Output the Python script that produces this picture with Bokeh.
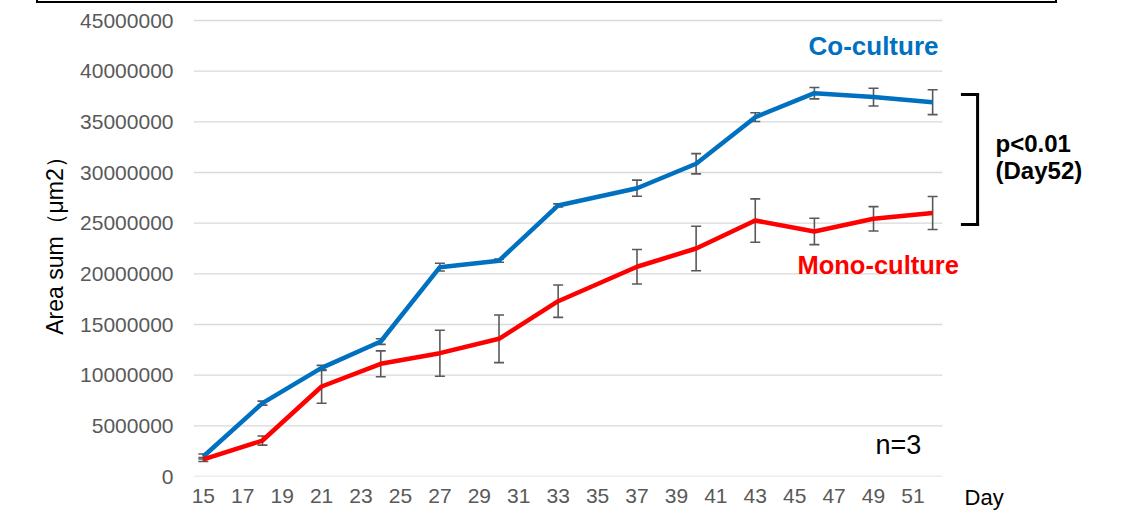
from bokeh.plotting import figure
from bokeh.layouts import column
from bokeh.models import (ColumnDataSource, Whisker, TeeHead, FixedTicker,
                          BasicTickFormatter, Label, Arrow, Range1d, Div)
from bokeh.embed import file_html
from bokeh.resources import INLINE

# Culture day of each measurement
days = [15, 18, 21, 24, 27, 30, 33, 37, 40, 43, 46, 49, 52]

# Total area (um2), mean and error for each condition
co_mean = [1970000, 7240000, 10720000, 13320000, 20660000, 21300000, 26750000,
           28450000, 30860000, 35460000, 37830000, 37440000, 36940000]
co_err = [250000, 200000, 250000, 280000, 380000, 150000, 150000,
          800000, 1000000, 430000, 560000, 870000, 1230000]
mono_mean = [1680000, 3550000, 8880000, 11120000, 12170000, 13590000, 17300000,
             20700000, 22500000, 25260000, 24180000, 25430000, 26000000]
mono_err = [200000, 450000, 1650000, 1280000, 2270000, 2350000, 1600000,
            1700000, 2200000, 2140000, 1300000, 1200000, 1630000]

# Axis ticks
x_ticks = list(range(15, 52, 2))
y_ticks = list(range(0, 45000001, 5000000))

# Day span covered by the plotted data area
x_start, x_stop = 14.5, 52.5

BLUE = "#0070C0"
RED = "#FF0000"
GRAY = "#595959"
FONT = "Liberation Sans"

# Plot area: the data span on the left, the strip to the right holds notes
p = figure(frame_width=928, frame_height=473, output_backend="svg",
           toolbar_location=None,
           x_range=Range1d(x_start, 61.581), y_range=Range1d(0, 46678000),
           min_border_left=193, min_border_right=0,
           min_border_top=0, min_border_bottom=40)
p.outline_line_color = None
p.background_fill_color = "white"
p.border_fill_color = "white"

# Axes
p.xaxis.ticker = FixedTicker(ticks=x_ticks)
p.yaxis.ticker = FixedTicker(ticks=y_ticks)
p.yaxis.formatter = BasicTickFormatter(use_scientific=False)
for ax in (p.xaxis[0], p.yaxis[0]):
    ax.axis_line_color = None
    ax.major_tick_line_color = None
    ax.minor_tick_line_color = None
    ax.major_tick_out = 0
    ax.major_tick_in = 0
    ax.major_label_text_color = GRAY
    ax.major_label_text_font = FONT
    ax.major_label_text_font_size = "21px"
p.xaxis.major_label_standoff = 12
p.yaxis.major_label_standoff = 20
p.yaxis.axis_label = "Area sum（μm2）"
p.yaxis.axis_label_text_font = FONT
p.yaxis.axis_label_text_font_style = "normal"
p.yaxis.axis_label_text_font_size = "23px"
p.yaxis.axis_label_text_color = "black"
p.yaxis.axis_label_standoff = 9

# Horizontal grid lines, drawn only across the data span
p.xgrid.grid_line_color = None
p.ygrid.grid_line_color = None
p.segment(x0=[x_start] * len(y_ticks), x1=[x_stop] * len(y_ticks),
          y0=y_ticks, y1=y_ticks, line_color="#D9D9D9", line_width=1.3,
          level="underlay")

co_src = ColumnDataSource(dict(x=days, y=co_mean,
                               lo=[m - e for m, e in zip(co_mean, co_err)],
                               hi=[m + e for m, e in zip(co_mean, co_err)]))
mono_src = ColumnDataSource(dict(x=days, y=mono_mean,
                                 lo=[m - e for m, e in zip(mono_mean, mono_err)],
                                 hi=[m + e for m, e in zip(mono_mean, mono_err)]))

# Error bars
for src in (co_src, mono_src):
    p.add_layout(Whisker(base="x", lower="lo", upper="hi", source=src,
                         dimension="height", line_color=GRAY, line_width=1.6,
                         lower_head=TeeHead(size=10, line_color=GRAY, line_width=1.6),
                         upper_head=TeeHead(size=10, line_color=GRAY, line_width=1.6)))

# Mean lines
p.line("x", "y", source=co_src, line_color=BLUE, line_width=4.5, line_join="round")
p.line("x", "y", source=mono_src, line_color=RED, line_width=4.5, line_join="round")


# Series labels and notes
def make_text(x, y, text, color, size, bold):
    return Label(x=x, y=y, text=text, text_color=color, text_font=FONT,
                 text_font_size=size, text_baseline="middle", text_align="left",
                 text_font_style="bold" if bold else "normal")


p.add_layout(make_text(45.70, 42.48e6, "Co-culture", BLUE, "26px", True))
p.add_layout(make_text(45.14, 20.92e6, "Mono-culture", RED, "25.5px", True))
p.add_layout(make_text(55.19, 32.86e6, "p<0.01", "black", "24px", True))
p.add_layout(make_text(55.19, 30.20e6, "(Day52)", "black", "24px", True))
p.add_layout(make_text(49.10, 3.06e6, "n=3", "black", "27px", False))

# x-axis title, sitting to the right of the day tick labels
p.add_layout(make_text(53.62, -2.07e6, "Day", "black", "22px", False), "below")

# Significance bracket at Day 52
br_x0, br_x1 = 53.51, 54.28
br_top, br_bot = 37.70e6, 24.87e6
for xs, ys, xe, ye in [(br_x0, br_top, br_x1, br_top),
                       (br_x1, br_top, br_x1, br_bot),
                       (br_x0, br_bot, br_x1, br_bot)]:
    p.add_layout(Arrow(end=None, x_start=xs, y_start=ys, x_end=xe, y_end=ye,
                       line_color="black", line_width=3, line_cap="square"))

# Lower edge of the frame box that runs along the top of the page
frame_edge = Div(text="", width=1021, height=3, margin=(0, 0, 0, 36),
                 styles={"border-left": "2px solid black",
                         "border-right": "2px solid black",
                         "border-bottom": "2.5px solid black",
                         "box-sizing": "border-box"})

layout = column(frame_edge, p, spacing=0, margin=0)
open("out.html", "w").write(file_html(layout, INLINE))
